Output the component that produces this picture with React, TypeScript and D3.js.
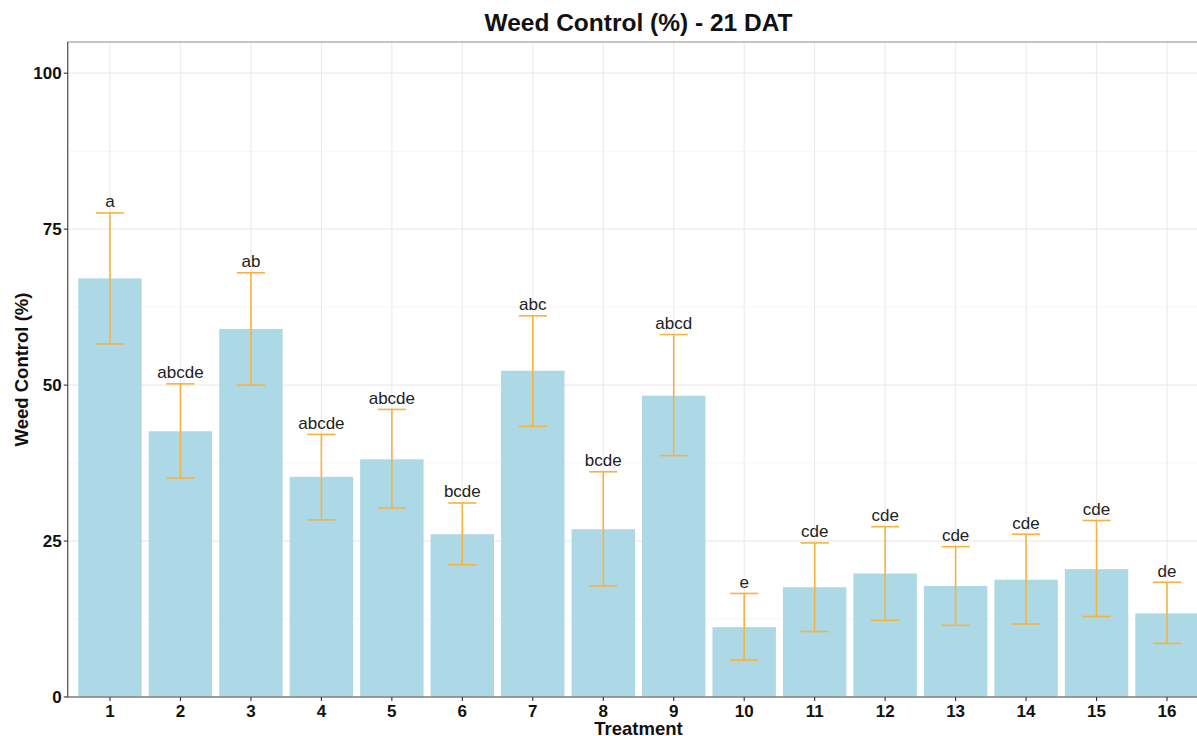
import React from "react";
import * as d3 from "d3";

const treatments = ["1","2","3","4","5","6","7","8","9","10","11","12","13","14","15","16"];
const means = [67.1, 42.6, 59.0, 35.3, 38.1, 26.1, 52.3, 26.9, 48.3, 11.2, 17.6, 19.8, 17.8, 18.8, 20.5, 13.4];
const upper = [77.6, 50.2, 68.0, 42.1, 46.1, 31.1, 61.1, 36.1, 58.1, 16.6, 24.7, 27.3, 24.1, 26.1, 28.3, 18.4];
const lower = [56.6, 35.1, 50.0, 28.4, 30.3, 21.2, 43.4, 17.8, 38.7, 5.9, 10.5, 12.3, 11.5, 11.7, 12.9, 8.6];
const letters = ["a","abcde","ab","abcde","abcde","bcde","abc","bcde","abcd","e","cde","cde","cde","cde","cde","de"];
const yTicks = [0, 25, 50, 75, 100];
const yMinor = [12.5, 37.5, 62.5, 87.5];

const W = 1197, H = 736;
const left = 67.7, right = 1209.3, top = 42, bottom = 697;
const font = "'Liberation Sans', Arial, Helvetica, sans-serif";

export default function App() {
  const step = (right - left) / (treatments.length - 1 + 1.2);
  const xc = d3.scalePoint<string>().domain(treatments).range([left + 0.6 * step, right - 0.6 * step]);
  const bw = 0.9 * step;
  const cap = 0.4 * step;
  const y = d3.scaleLinear().domain([0, 105]).range([bottom, top]);

  return (
    <svg width={W} height={H} style={{ position: "fixed", left: 0, top: 0, background: "#fff" }} fontFamily={font}>
      <rect x={0} y={0} width={W} height={H} fill="#fff" />
      {/* grid */}
      {yMinor.map((t) => (
        <line key={"mi" + t} x1={left} x2={right} y1={y(t)} y2={y(t)} stroke="#f2f2f2" strokeWidth={0.8} />
      ))}
      {yTicks.map((t) => (
        <line key={"ma" + t} x1={left} x2={right} y1={y(t)} y2={y(t)} stroke="#ebebeb" strokeWidth={1.2} />
      ))}
      {treatments.map((t) => (
        <line key={"vx" + t} x1={xc(t)!} x2={xc(t)!} y1={top} y2={bottom} stroke="#ebebeb" strokeWidth={1.2} />
      ))}
      {/* bars */}
      {treatments.map((t, i) => (
        <rect key={"b" + t} x={xc(t)! - bw / 2} y={y(means[i])} width={bw} height={y(0) - y(means[i])} fill="#add8e6" />
      ))}
      {/* error bars */}
      {treatments.map((t, i) => {
        const cx = xc(t)!;
        return (
          <g key={"e" + t} stroke="#f5b342" strokeWidth={1.6}>
            <line x1={cx} x2={cx} y1={y(upper[i])} y2={y(lower[i])} />
            <line x1={cx - cap / 2} x2={cx + cap / 2} y1={y(upper[i])} y2={y(upper[i])} />
            <line x1={cx - cap / 2} x2={cx + cap / 2} y1={y(lower[i])} y2={y(lower[i])} />
          </g>
        );
      })}
      {/* letters */}
      {treatments.map((t, i) => (
        <text key={"l" + t} x={xc(t)!} y={y(upper[i]) - 5.5} textAnchor="middle" fontSize={17} fill="#222">
          {letters[i]}
        </text>
      ))}
      {/* panel border */}
      <rect x={left} y={top} width={right - left} height={bottom - top} fill="none" stroke="#a0a0a0" strokeWidth={1.2} />
      <line x1={left} x2={left} y1={top} y2={bottom} stroke="#555" strokeWidth={1.1} />
      <line x1={left} x2={right} y1={bottom} y2={bottom} stroke="#777" strokeWidth={1.1} />
      {/* y axis */}
      {yTicks.map((t) => (
        <g key={"yt" + t}>
          <line x1={left - 4} x2={left} y1={y(t)} y2={y(t)} stroke="#333" strokeWidth={1.1} />
          <text x={left - 6} y={y(t)} dy="0.36em" textAnchor="end" fontSize={17} fontWeight="bold" fill="#111">
            {t}
          </text>
        </g>
      ))}
      {/* x axis */}
      {treatments.map((t) => (
        <g key={"xt" + t}>
          <line x1={xc(t)!} x2={xc(t)!} y1={bottom} y2={bottom + 4} stroke="#333" strokeWidth={1.1} />
          <text x={xc(t)!} y={bottom + 20} textAnchor="middle" fontSize={17} fontWeight="bold" fill="#111">
            {t}
          </text>
        </g>
      ))}
      <text x={(left + right) / 2} y={735} textAnchor="middle" fontSize={18.5} fontWeight="bold" fill="#111">
        Treatment
      </text>
      <text transform={`translate(28, ${(top + bottom) / 2}) rotate(-90)`} textAnchor="middle" fontSize={18.5} fontWeight="bold" fill="#111">
        Weed Control (%)
      </text>
      <text x={(left + right) / 2} y={31} textAnchor="middle" fontSize={24.5} fontWeight="bold" fill="#111">
        Weed Control (%) - 21 DAT
      </text>
    </svg>
  );
}
